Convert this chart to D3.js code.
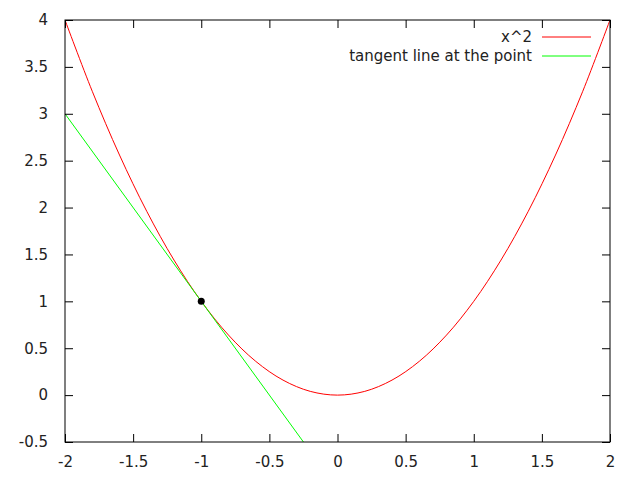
<!DOCTYPE html>
<html>
<head>
<meta charset="utf-8">
<script src="https://cdn.jsdelivr.net/npm/d3@7"></script>
<style>
  body { margin: 0; background: #fff; }
  text { font-family: "DejaVu Sans", sans-serif; font-size: 15px; fill: #222; }
</style>
</head>
<body>
<div id="chart"></div>
<script>
// curve x^2
var curveX = [-2, -1.8, -1.6, -1.4, -1.2, -1, -0.8, -0.6, -0.4, -0.2, 0, 0.2, 0.4, 0.6, 0.8, 1, 1.2, 1.4, 1.6, 1.8, 2]
var curveY = [4, 3.24, 2.56, 1.96, 1.44, 1, 0.64, 0.36, 0.16, 0.04, 0, 0.04, 0.16, 0.36, 0.64, 1, 1.44, 1.96, 2.56, 3.24, 4]
// tangent line end points
var tangentX = [-2, -0.25]
var tangentY = [3, -0.5]
// the point
var pointX = [-1]
var pointY = [1]

var xTicks = [-2, -1.5, -1, -0.5, 0, 0.5, 1, 1.5, 2]
var yTicks = [-0.5, 0, 0.5, 1, 1.5, 2, 2.5, 3, 3.5, 4]
var legendLabels = ["x^2", "tangent line at the point"]
var colors = ["#ff0000", "#00ff00"]

var margin = { top: 20, right: 30, bottom: 38, left: 65 },
  width = 640 - margin.left - margin.right,
  height = 480 - margin.top - margin.bottom

var svg = d3.select("#chart")
  .append("svg")
  .attr("width", 640)
  .attr("height", 480)

var g = svg.append("g")
  .attr("transform", "translate(" + margin.left + "," + margin.top + ")")

var x = d3.scaleLinear().domain([-2, 2]).range([0, width])
var y = d3.scaleLinear().domain([-0.5, 4]).range([height, 0])

// clip to the plot box
g.append("clipPath").attr("id", "clip")
  .append("rect").attr("width", width).attr("height", height)

var line = d3.line()
  .x(d => x(d[0]))
  .y(d => y(d[1]))

var curveData = curveX.map((v, i) => [v, curveY[i]])
var tangentData = tangentX.map((v, i) => [v, tangentY[i]])

g.append("path")
  .datum(curveData)
  .attr("clip-path", "url(#clip)")
  .attr("fill", "none")
  .attr("stroke", colors[0])
  .attr("stroke-width", 1)
  .attr("d", line.curve(d3.curveCatmullRom.alpha(0.5)))

g.append("path")
  .datum(tangentData)
  .attr("clip-path", "url(#clip)")
  .attr("fill", "none")
  .attr("stroke", colors[1])
  .attr("stroke-width", 1)
  .attr("d", d3.line().x(d => x(d[0])).y(d => y(d[1])))

g.selectAll(".pt")
  .data(pointX.map((v, i) => [v, pointY[i]]))
  .enter()
  .append("circle")
  .attr("cx", d => x(d[0]))
  .attr("cy", d => y(d[1]))
  .attr("r", 3.5)
  .attr("fill", "#000")

// axes, gnuplot style: ticks inward on all four sides
var tick = 8
var fmt = d => String(d)
g.append("g")
  .attr("transform", "translate(0," + height + ")")
  .call(d3.axisBottom(x).tickValues(xTicks).tickSize(-tick).tickPadding(14).tickFormat(fmt))
g.append("g")
  .call(d3.axisTop(x).tickValues(xTicks).tickSize(-tick).tickFormat(""))
g.append("g")
  .call(d3.axisLeft(y).tickValues(yTicks).tickSize(-tick).tickPadding(17).tickFormat(fmt))
g.append("g")
  .attr("transform", "translate(" + width + ",0)")
  .call(d3.axisRight(y).tickValues(yTicks).tickSize(-tick).tickFormat(""))

g.selectAll(".domain").remove()
g.selectAll(".tick line").attr("stroke", "#000")
g.selectAll(".tick text")
  .attr("font-size", null)
  .attr("font-family", null)
  .style("font-size", "15px")
  .attr("fill", "#222")
g.selectAll("g").attr("font-size", null).attr("font-family", null)

g.append("rect")
  .attr("width", width)
  .attr("height", height)
  .attr("fill", "none")
  .attr("stroke", "#000")
  .attr("stroke-width", 1)

// legend
var legend = g.selectAll(".legend")
  .data(legendLabels)
  .enter()
  .append("g")
  .attr("transform", (d, i) => "translate(0," + (17 + i * 19) + ")")

legend.append("text")
  .attr("x", 467)
  .attr("dy", "0.35em")
  .attr("text-anchor", "end")
  .text(d => d)

legend.append("line")
  .attr("x1", 477)
  .attr("x2", 526)
  .attr("stroke", (d, i) => colors[i])
</script>
</body>
</html>
